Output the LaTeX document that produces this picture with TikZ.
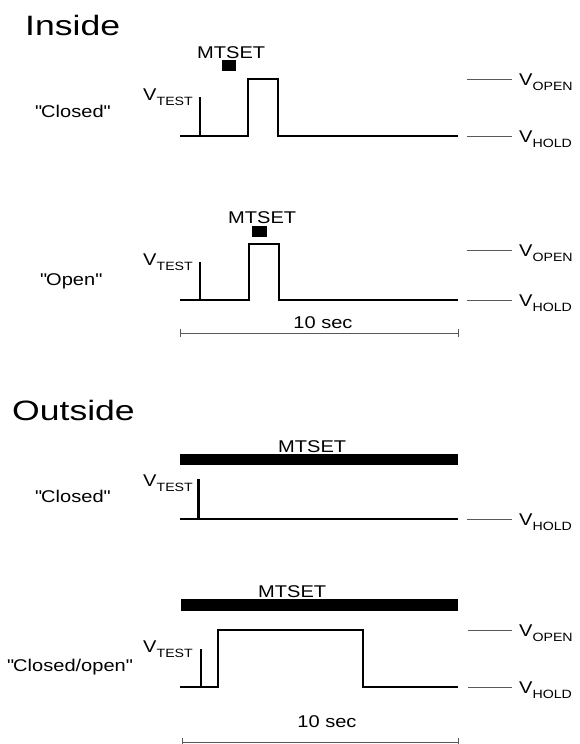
\documentclass[tikz,border=0pt]{standalone}
\usepackage{fontspec}
\setmainfont[FakeStretch=1.18]{Liberation Sans}
\newfontfamily\headfont[FakeStretch=1.27]{Liberation Sans}
% voltage symbol with a lowered subscript
\newcommand\volt[1]{V\raisebox{-5pt}{\fontsize{12}{12}\selectfont #1}}
% straight double quotes around a state name
\newcommand\quoted[1]{\textquotedbl#1\textquotedbl}
\tikzset{
  lbl/.style={font=\fontsize{17}{17}\selectfont, inner sep=0pt},
  head/.style={font=\headfont\fontsize{28}{28}\selectfont, inner sep=0pt, anchor=base west},
  wave/.style={line width=2.8pt, line join=miter, line cap=butt},
  level/.style={line width=0.8pt, black!65},
  scaleline/.style={line width=0.8pt, black!65},
}
\begin{document}
\begin{tikzpicture}[x=1pt, y=-1pt]
\useasboundingbox (0,0) rectangle (579,744);

% ---------------- Inside ----------------
\node[head] (inside) at (25,35) {Inside};

% "Closed"
\node[lbl, anchor=base west] (mt1) at (197,58) {MTSET};
\fill (222,60) rectangle (236,71);
\node[lbl, anchor=base west] (st1) at (35,117) {\quoted{Closed}};
\node[lbl, anchor=base east] (vt1) at (193,100) {\volt{TEST}};
\draw[wave] (180,136) -- (248,136) -- (248,79) -- (278,79) -- (278,136) -- (458,136);
\draw[wave] (200,136) -- (200,97);
\draw[level] (467,79) -- (512,79);
\draw[level] (467,136) -- (512,136);
\node[lbl, anchor=base west] (vo1) at (519,85.5) {\volt{OPEN}};
\node[lbl, anchor=base west] (vh1) at (519,142.5) {\volt{HOLD}};

% "Open"
\node[lbl, anchor=base west] (mt2) at (228,223) {MTSET};
\fill (252,226) rectangle (267,237);
\node[lbl, anchor=base west] (st2) at (40,285) {\quoted{Open}};
\node[lbl, anchor=base east] (vt2) at (193,265) {\volt{TEST}};
\draw[wave] (180,300) -- (249,300) -- (249,244) -- (279,244) -- (279,300) -- (458,300);
\draw[wave] (200,300) -- (200,262);
\draw[level] (467,250) -- (512,250);
\draw[level] (467,300) -- (512,300);
\node[lbl, anchor=base west] (vo2) at (519,256.5) {\volt{OPEN}};
\node[lbl, anchor=base west] (vh2) at (519,306.5) {\volt{HOLD}};

% time scale
\coordinate (sa) at (180,333);
\coordinate (sb) at (458,333);
\draw[scaleline] (sa) -- (sb);
\draw[scaleline] ([yshift=-4pt]sa) -- ([yshift=4pt]sa);
\draw[scaleline] ([yshift=-4pt]sb) -- ([yshift=4pt]sb);
\node[lbl, anchor=base] (ts1) at (323,328) {10 sec};

% ---------------- Outside ----------------
\node[head] (outside) at (12,420) {Outside};

% "Closed"
\node[lbl, anchor=base west] (mt3) at (278,452) {MTSET};
\fill (180,454) rectangle (458,465);
\node[lbl, anchor=base west] (st3) at (35,502) {\quoted{Closed}};
\node[lbl, anchor=base east] (vt3) at (193,486) {\volt{TEST}};
\draw[wave] (180,519) -- (458,519);
\draw[wave] (198.5,519) -- (198.5,479);
\draw[level] (467,519) -- (512,519);
\node[lbl, anchor=base west] (vh3) at (519,525.5) {\volt{HOLD}};

% "Closed/open"
\node[lbl, anchor=base west] (mt4) at (258,597) {MTSET};
\fill (181,599) rectangle (458,611);
\node[lbl, anchor=base west] (st4) at (7,671) {\quoted{Closed/open}};
\node[lbl, anchor=base east] (vt4) at (193,652) {\volt{TEST}};
\draw[wave] (180,687) -- (218,687) -- (218,630) -- (363,630) -- (363,687) -- (458,687);
\draw[wave] (201,687) -- (201,649);
\draw[level] (468,630) -- (512,630);
\draw[level] (468,687) -- (512,687);
\node[lbl, anchor=base west] (vo4) at (519,636.5) {\volt{OPEN}};
\node[lbl, anchor=base west] (vh4) at (519,693.5) {\volt{HOLD}};

% time scale
\coordinate (sc) at (182,742);
\coordinate (sd) at (458,742);
\draw[scaleline] (sc) -- (sd);
\draw[scaleline] ([yshift=-6pt]sc) -- ([yshift=4pt]sc);
\draw[scaleline] ([yshift=-6pt]sd) -- ([yshift=4pt]sd);
\node[lbl, anchor=base] (ts2) at (327,727) {10 sec};
\end{tikzpicture}
\end{document}
